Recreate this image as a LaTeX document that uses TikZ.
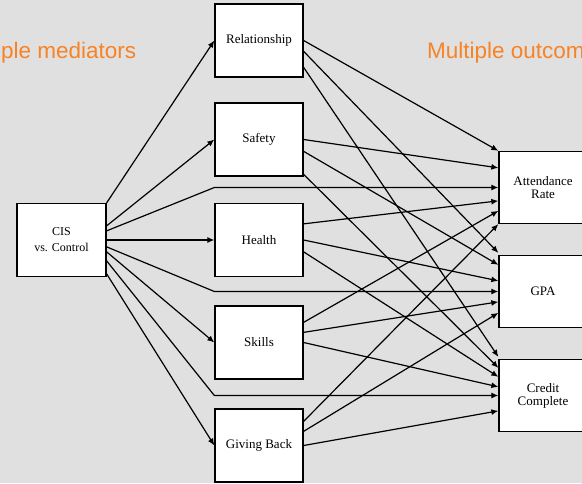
\documentclass[tikz,border=0pt]{standalone}
\usepackage{fontspec}
\setmainfont{Liberation Serif}
\newfontfamily\headfont{Liberation Sans}
\usetikzlibrary{arrows.meta,calc}
\definecolor{bg}{RGB}{224,224,224}
\definecolor{accent}{RGB}{247,131,38}

\begin{document}
\begin{tikzpicture}[x=1pt,y=-1pt,
  box/.style={draw=black,line width=1.3pt,fill=white,minimum width=88pt,
    minimum height=73pt,inner sep=0pt,align=center,
    font=\fontsize{13}{13}\selectfont},
  outbox/.style={box,minimum height=72pt},
  link/.style={line width=1.2pt,-{Latex[length=7pt,width=6pt]}},
  heading/.style={text=accent,font=\headfont\fontsize{22.5}{27}\selectfont,
    anchor=base west,inner sep=0pt}]

\useasboundingbox (0,0) rectangle (582,483);
\clip (0,0) rectangle (582,483);
\fill[bg] (0,0) rectangle (582,483);

% headings
\node[heading] (hmed) at (1,58) {ple mediators};
\node[heading] (hout) at (427,58) {Multiple outcom};

% treatment
\node[box,minimum width=89pt,font=\fontsize{12}{16}\selectfont] (cis) at (61.5,240) {CIS\\vs. Control};

% mediators
\node[box] (rel) at (259,40.5)  {Relationship};
\node[box] (saf) at (259,139.5) {Safety};
\node[box] (hea) at (259,240)   {Health};
\node[box] (ski) at (259,342.5) {Skills};
\node[box] (giv) at (259,445.5) {Giving Back};

% outcomes
\node[outbox] (att) at (543,187.5) {Attendance\\Rate};
\node[outbox] (gpa) at (543,291.5) {GPA};
\node[outbox] (cre) at (543,395.5) {Credit\\Complete};

% bends of the direct paths
\coordinate (batt) at (hea.west |- att.west);
\coordinate (bgpa) at (ski.west |- gpa.west);
\coordinate (bcre) at (giv.west |- cre.west);

% treatment -> mediators and direct paths
\draw[link] (cis.north east) -- (rel.west);
\draw[link] ($(cis.north east)+(0,23)$) -- (saf.west);
\draw[link] ($(cis.north east)+(0,28)$) -- (batt) -- (att.west);
\draw[link] (cis.east) -- (hea.west);
\draw[link] ($(cis.north east)+(0,44)$) -- (bgpa) -- (gpa.west);
\draw[link] ($(cis.north east)+(0,49)$) -- (ski.west);
\draw[link] ($(cis.north east)+(0,58)$) -- (bcre) -- (cre.west);
\draw[link] ($(cis.north east)+(0,71)$) -- (giv.west);

% Relationship -> outcomes
\draw[link] (rel.east) -- (att.north west);
\draw[link] ($(rel.north east)+(0,48)$) -- ($(gpa.north west)+(0,-2)$);
\draw[link] ($(rel.north east)+(0,64)$) -- ($(cre.north west)+(0,-2)$);

% Safety -> outcomes
\draw[link] (saf.east) -- ($(att.north west)+(0,17)$);
\draw[link] ($(saf.north east)+(0,49)$) -- ($(gpa.north west)+(0,10)$);
\draw[link] ($(saf.north east)+(0,72)$) -- ($(cre.north west)+(0,9)$);

% Health -> outcomes
\draw[link] ($(hea.north east)+(0,21)$) -- ($(att.north west)+(0,50)$);
\draw[link] (hea.east) -- ($(gpa.north west)+(0,26)$);
\draw[link] ($(hea.north east)+(0,49)$) -- ($(cre.north west)+(0,18)$);

% Skills -> outcomes
\draw[link] ($(ski.north east)+(0,17)$) -- ($(att.north west)+(0,60)$);
\draw[link] ($(ski.north east)+(0,27)$) -- ($(gpa.north west)+(0,47)$);
\draw[link] (ski.east) -- ($(cre.north west)+(0,28)$);

% Giving Back -> outcomes
\draw[link] ($(giv.north east)+(0,13)$) -- (att.south west);
\draw[link] ($(giv.north east)+(0,23)$) -- ($(gpa.north west)+(0,58)$);
\draw[link] (giv.east) -- ($(cre.north west)+(0,52)$);

\end{tikzpicture}
\end{document}
